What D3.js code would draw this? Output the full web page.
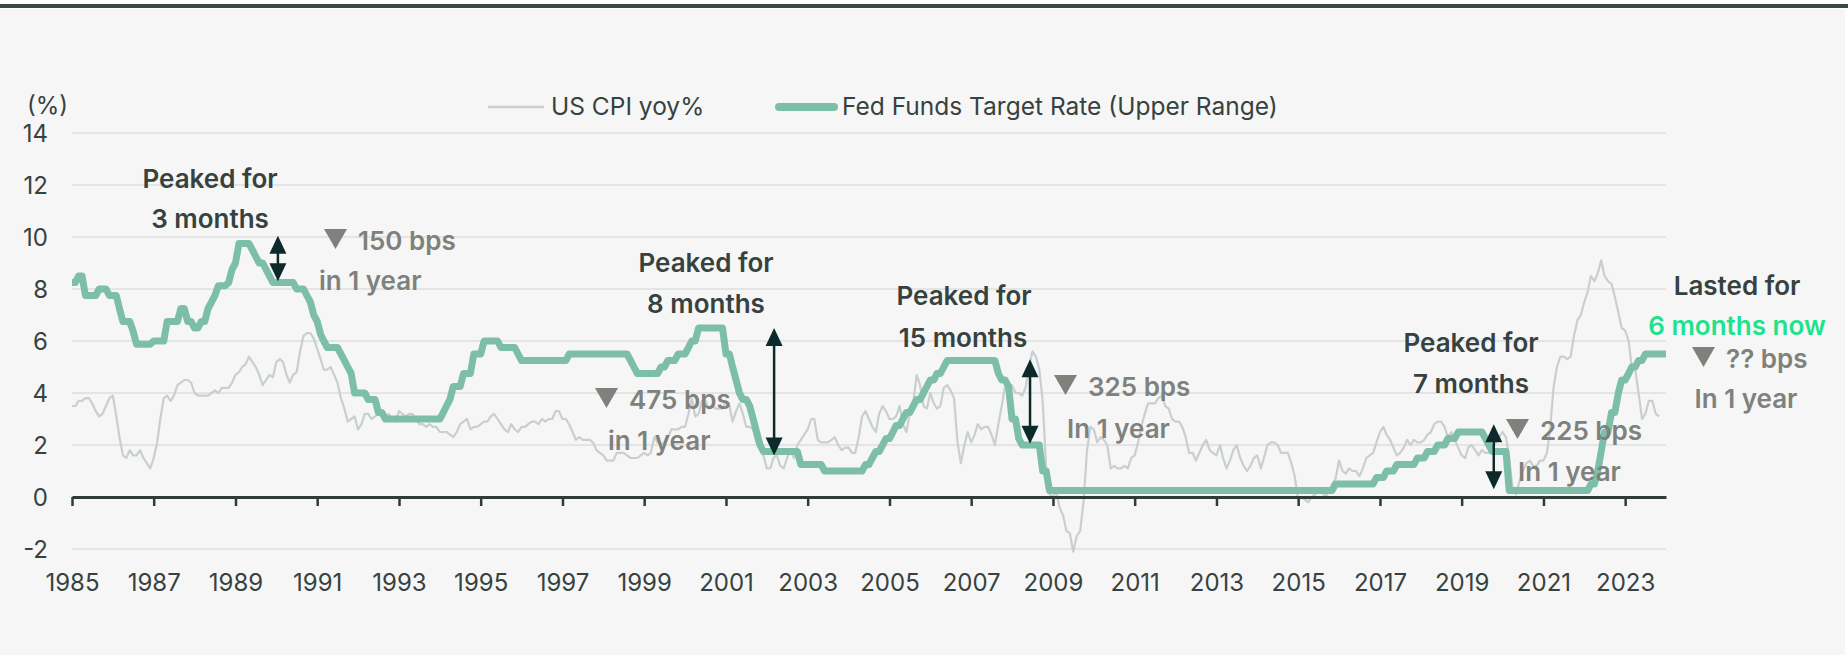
<!DOCTYPE html>
<html lang="en">
<head>
<meta charset="UTF-8">
<title>Fed Funds Target Rate vs US CPI</title>
<script src="https://d3js.org/d3.v7.min.js"></script>
<style>
  body { margin: 0; background: #fff; }
  svg { display: block; font-family: Inter, "Noto Sans", sans-serif; }
</style>
</head>
<body>
<svg width="1848" height="657"></svg>
<script>
// US CPI yoy %, monthly from Jan 1985 (one row per year)
const cpiStart = "1985-01";
const cpiYoy = [
  3.5, 3.5, 3.7, 3.7, 3.8, 3.8, 3.6, 3.3, 3.1, 3.2, 3.5, 3.8,
  3.9, 3.1, 2.3, 1.6, 1.5, 1.8, 1.6, 1.6, 1.8, 1.5, 1.3, 1.1,
  1.5, 2.1, 3.0, 3.8, 3.9, 3.7, 3.9, 4.3, 4.4, 4.5, 4.5, 4.4,
  4.0, 3.9, 3.9, 3.9, 3.9, 4.0, 4.1, 4.0, 4.2, 4.2, 4.2, 4.4,
  4.7, 4.8, 5.0, 5.1, 5.4, 5.2, 5.0, 4.7, 4.3, 4.5, 4.7, 4.6,
  5.2, 5.3, 5.2, 4.7, 4.4, 4.7, 4.8, 5.6, 6.2, 6.3, 6.3, 6.1,
  5.7, 5.3, 4.9, 4.9, 5.0, 4.7, 4.4, 3.8, 3.4, 2.9, 3.0, 3.1,
  2.6, 2.8, 3.2, 3.2, 3.0, 3.1, 3.2, 3.1, 3.0, 3.2, 3.0, 2.9,
  3.3, 3.2, 3.1, 3.2, 3.2, 3.0, 2.8, 2.8, 2.7, 2.8, 2.7, 2.7,
  2.5, 2.5, 2.5, 2.4, 2.3, 2.5, 2.8, 2.9, 3.0, 2.6, 2.7, 2.7,
  2.8, 2.9, 2.9, 3.1, 3.2, 3.0, 2.8, 2.6, 2.5, 2.8, 2.6, 2.5,
  2.7, 2.7, 2.8, 2.9, 2.9, 2.8, 3.0, 2.9, 3.0, 3.0, 3.3, 3.3,
  3.0, 3.0, 2.8, 2.5, 2.2, 2.3, 2.2, 2.2, 2.2, 2.1, 1.8, 1.7,
  1.6, 1.4, 1.4, 1.4, 1.7, 1.7, 1.7, 1.6, 1.5, 1.5, 1.5, 1.6,
  1.7, 1.6, 1.7, 2.3, 2.1, 2.0, 2.1, 2.3, 2.6, 2.6, 2.6, 2.7,
  2.7, 3.2, 3.8, 3.1, 3.2, 3.7, 3.7, 3.4, 3.5, 3.4, 3.4, 3.4,
  3.7, 3.5, 2.9, 3.3, 3.6, 3.2, 2.7, 2.7, 2.6, 2.1, 1.9, 1.6,
  1.1, 1.1, 1.5, 1.6, 1.2, 1.1, 1.5, 1.8, 1.5, 2.0, 2.2, 2.4,
  2.6, 3.0, 3.0, 2.2, 2.1, 2.1, 2.1, 2.2, 2.3, 2.0, 1.8, 1.9,
  1.9, 1.7, 1.7, 2.3, 3.1, 3.3, 3.0, 2.7, 2.5, 3.2, 3.5, 3.3,
  3.0, 3.0, 3.1, 3.5, 2.8, 2.5, 3.2, 3.6, 4.7, 4.3, 3.5, 3.4,
  4.0, 3.6, 3.4, 3.5, 4.2, 4.3, 4.1, 3.8, 2.1, 1.3, 2.0, 2.5,
  2.1, 2.4, 2.8, 2.6, 2.7, 2.7, 2.4, 2.0, 2.8, 3.5, 4.3, 4.1,
  4.3, 4.0, 4.0, 3.9, 4.2, 5.0, 5.6, 5.4, 4.9, 3.7, 1.1, 0.1,
  0.0, 0.2, -0.4, -0.7, -1.3, -1.4, -2.1, -1.5, -1.3, -0.2, 1.8, 2.7,
  2.6, 2.1, 2.3, 2.2, 2.0, 1.1, 1.2, 1.1, 1.1, 1.2, 1.1, 1.5,
  1.6, 2.1, 2.7, 3.2, 3.6, 3.6, 3.6, 3.8, 3.9, 3.5, 3.4, 3.0,
  2.9, 2.9, 2.7, 2.3, 1.7, 1.7, 1.4, 1.7, 2.0, 2.2, 1.8, 1.7,
  1.6, 2.0, 1.5, 1.1, 1.4, 1.8, 2.0, 1.5, 1.2, 1.0, 1.2, 1.5,
  1.6, 1.1, 1.5, 2.0, 2.1, 2.1, 2.0, 1.7, 1.7, 1.7, 1.3, 0.8,
  -0.1, 0.0, -0.1, -0.2, 0.0, 0.1, 0.2, 0.2, 0.0, 0.2, 0.5, 0.7,
  1.4, 1.0, 0.9, 1.1, 1.0, 1.0, 0.8, 1.1, 1.5, 1.6, 1.7, 2.1,
  2.5, 2.7, 2.4, 2.2, 1.9, 1.6, 1.7, 1.9, 2.2, 2.0, 2.2, 2.1,
  2.1, 2.2, 2.4, 2.5, 2.8, 2.9, 2.9, 2.7, 2.3, 2.5, 2.2, 1.9,
  1.6, 1.5, 1.9, 2.0, 1.8, 1.6, 1.8, 1.7, 1.7, 1.8, 2.1, 2.3,
  2.5, 2.3, 1.5, 0.3, 0.1, 0.6, 1.0, 1.3, 1.4, 1.2, 1.2, 1.4,
  1.4, 1.7, 2.6, 4.2, 5.0, 5.4, 5.4, 5.3, 5.4, 6.2, 6.8, 7.0,
  7.5, 7.9, 8.5, 8.3, 8.6, 9.1, 8.5, 8.3, 8.2, 7.7, 7.1, 6.5,
  6.4, 6.0, 5.0, 4.9, 4.0, 3.0, 3.2, 3.7, 3.7, 3.2, 3.1
];

// Fed funds target rate (upper range): month of change and new level
const fedDates = [
  "1985-01","1985-03","1985-05","1985-09","1985-12","1986-03","1986-04","1986-07","1986-08",
  "1987-01","1987-05","1987-09","1987-11","1988-01","1988-03","1988-05","1988-06","1988-07",
  "1988-08","1988-11","1988-12","1989-01","1989-02","1989-06","1989-07","1989-08","1989-10",
  "1989-11","1989-12","1990-07","1990-10","1990-11","1990-12","1991-01","1991-02","1991-03",
  "1991-04","1991-08","1991-09","1991-10","1991-11","1991-12","1992-04","1992-07","1992-09",
  "1994-02","1994-03","1994-04","1994-05","1994-08","1994-11","1995-02","1995-07","1995-12",
  "1996-01","1997-03","1998-09","1998-10","1998-11","1999-06","1999-08","1999-11","2000-02",
  "2000-03","2000-05","2001-01","2001-03","2001-04","2001-05","2001-06","2001-08","2001-09",
  "2001-10","2001-11","2001-12","2002-11","2003-06","2004-06","2004-08","2004-09","2004-11",
  "2004-12","2005-02","2005-03","2005-05","2005-06","2005-08","2005-09","2005-11","2005-12",
  "2006-01","2006-03","2006-05","2006-06","2007-09","2007-10","2007-12","2008-01","2008-03",
  "2008-04","2008-10","2008-12","2015-12","2016-12","2017-03","2017-06","2017-12","2018-03",
  "2018-06","2018-09","2018-12","2019-08","2019-09","2019-10","2020-03","2022-03","2022-05",
  "2022-06","2022-07","2022-09","2022-11","2022-12","2023-02","2023-03","2023-05","2023-07",
  "2024-01"
];
const fedRates = [
  8.25, 8.5, 7.75, 8.0, 7.75, 7.25, 6.75, 6.375, 5.875,
  6.0, 6.75, 7.25, 6.75, 6.5, 6.75, 7.25, 7.5, 7.75,
  8.125, 8.25, 8.75, 9.0, 9.75, 9.5, 9.25, 9.0, 8.75,
  8.5, 8.25, 8.0, 7.75, 7.5, 7.0, 6.75, 6.25, 6.0,
  5.75, 5.5, 5.25, 5.0, 4.75, 4.0, 3.75, 3.25, 3.0,
  3.25, 3.5, 3.75, 4.25, 4.75, 5.5, 6.0, 5.75, 5.5,
  5.25, 5.5, 5.25, 5.0, 4.75, 5.0, 5.25, 5.5, 5.75,
  6.0, 6.5, 5.5, 5.0, 4.5, 4.0, 3.75, 3.5, 3.0,
  2.5, 2.0, 1.75, 1.25, 1.0, 1.25, 1.5, 1.75, 2.0,
  2.25, 2.5, 2.75, 3.0, 3.25, 3.5, 3.75, 4.0, 4.25,
  4.5, 4.75, 5.0, 5.25, 4.75, 4.5, 4.25, 3.0, 2.25,
  2.0, 1.0, 0.25, 0.5, 0.75, 1.0, 1.25, 1.5, 1.75,
  2.0, 2.25, 2.5, 2.25, 2.0, 1.75, 0.25, 0.5, 1.0,
  1.75, 2.5, 3.25, 4.0, 4.5, 4.75, 5.0, 5.25, 5.5,
  5.5
];

const yTicks = [-2, 0, 2, 4, 6, 8, 10, 12, 14];
const xTickYears = [1985, 1987, 1989, 1991, 1993, 1995, 1997, 1999, 2001, 2003,
                    2005, 2007, 2009, 2011, 2013, 2015, 2017, 2019, 2021, 2023];
const legendLabels = ["US CPI yoy%", "Fed Funds Target Rate (Upper Range)"];

// double-headed arrows marking each peak-to-cut move: date, top, bottom
const arrowDates = ["1990-01-15", "2002-03-07", "2008-06-10", "2019-10-15"];
const arrowTops = [10.05, 6.5, 5.3, 2.8];
const arrowBottoms = [8.3, 1.6, 2.05, 0.3];

const cText = "#36423f", cGrey = "#7e817c", cFed = "#7dbea8", cCpi = "#c9cfcf",
      cAxis = "#2f3b3b", cGrid = "#dcdedd", cGreen = "#1fe28c", cArrow = "#0d2a2a";

const svg = d3.select("svg");

// panel + top rule
svg.append("rect").attr("x", 0).attr("y", 9).attr("width", 1845).attr("height", 646).attr("fill", "#f6f6f6");
svg.append("rect").attr("x", 0).attr("y", 4).attr("width", 1848).attr("height", 4).attr("fill", "#3a4848");

const parseMonth = d3.timeParse("%Y-%m");
const parseDay = d3.timeParse("%Y-%m-%d");
const x = d3.scaleTime()
    .domain([new Date(1985, 0, 1), new Date(2024, 0, 1)])
    .range([72, 1666]);
const y = d3.scaleLinear().domain([-2, 14]).range([549, 133]);

// gridlines
svg.append("g").selectAll("line")
    .data(yTicks.filter(d => d !== 0))
    .enter().append("line")
    .attr("x1", x.range()[0]).attr("x2", x.range()[1])
    .attr("y1", d => y(d)).attr("y2", d => y(d))
    .attr("stroke", cGrid).attr("stroke-width", 1.5);

// y labels
svg.append("g").selectAll("text")
    .data(yTicks)
    .enter().append("text")
    .attr("x", 48).attr("y", d => y(d)).attr("dy", "0.36em")
    .attr("text-anchor", "end")
    .style("font-size", "24px").attr("fill", cText)
    .text(d => d);

svg.append("text").attr("x", 27).attr("y", 114)
    .style("font-size", "24px").attr("fill", cText).text("(%)");

// CPI line
const cpiData = cpiYoy.map((v, i) => ({date: d3.timeMonth.offset(parseMonth(cpiStart), i), v: v}));
svg.append("path")
    .datum(cpiData)
    .attr("fill", "none").attr("stroke", cCpi).attr("stroke-width", 2.2)
    .attr("stroke-linejoin", "round")
    .attr("d", d3.line().x(d => x(d.date)).y(d => y(d.v)));

// x axis
const xAxis = svg.append("g")
    .attr("transform", `translate(0, ${y(0)})`)
    .call(d3.axisBottom(x)
        .tickValues(xTickYears.map(yr => new Date(yr, 0, 1)))
        .tickFormat(d3.timeFormat("%Y"))
        .tickSize(9).tickSizeOuter(0).tickPadding(68));
xAxis.select(".domain").attr("stroke", cAxis).attr("stroke-width", 3);
xAxis.selectAll(".tick line").attr("stroke", cAxis).attr("stroke-width", 2.5);
xAxis.selectAll(".tick text").attr("fill", cText).style("font-size", "24px")
    .style("font-family", "Inter, 'Noto Sans', sans-serif");

// Fed funds line, plotted as a monthly series: the old level holds until
// the month before each change, then the line moves to the new level
const fedData = [];
fedDates.forEach((d, i) => {
    const dt = parseMonth(d);
    if (i > 0) fedData.push({date: d3.timeMonth.offset(dt, -1), v: fedRates[i - 1]});
    fedData.push({date: dt, v: fedRates[i]});
});
svg.append("path")
    .datum(fedData)
    .attr("fill", "none").attr("stroke", cFed).attr("stroke-width", 7)
    .attr("stroke-linejoin", "round")
    .attr("d", d3.line().x(d => x(d.date)).y(d => y(d.v)));

// legend
svg.append("line").attr("x1", 488).attr("x2", 544).attr("y1", 107).attr("y2", 107)
    .attr("stroke", cCpi).attr("stroke-width", 2.5);
svg.append("text").attr("x", 551).attr("y", 115).style("font-size", "24.5px").attr("fill", cText)
    .text(legendLabels[0]);
svg.append("line").attr("x1", 779).attr("x2", 834).attr("y1", 107).attr("y2", 107)
    .attr("stroke", cFed).attr("stroke-width", 8).attr("stroke-linecap", "round");
svg.append("text").attr("x", 842).attr("y", 115).style("font-size", "24.5px").attr("fill", cText)
    .text(legendLabels[1]);

// arrows
const arrows = svg.append("g");
arrowDates.forEach((d, i) => {
    const ax = x(parseDay(d));
    const top = y(arrowTops[i]), bot = y(arrowBottoms[i]);
    arrows.append("line").attr("x1", ax).attr("x2", ax).attr("y1", top + 8).attr("y2", bot - 8)
        .attr("stroke", cArrow).attr("stroke-width", 2.5);
    arrows.append("path").attr("fill", cArrow)
        .attr("d", `M${ax},${top}L${ax - 8.5},${top + 18}L${ax + 8.5},${top + 18}Z`);
    arrows.append("path").attr("fill", cArrow)
        .attr("d", `M${ax},${bot}L${ax - 8.5},${bot - 18}L${ax + 8.5},${bot - 18}Z`);
});

// annotation text
function label(tx, ty, txt, color, anchor) {
    svg.append("text").attr("x", tx).attr("y", ty)
        .attr("text-anchor", anchor || "middle")
        .style("font-size", "26px").style("font-weight", 600)
        .attr("fill", color).text(txt);
}
function cut(tx, ty, txt) {
    // grey down-triangle followed by the bps text
    svg.append("path").attr("fill", cGrey)
        .attr("d", `M${tx},${ty - 21}L${tx + 23},${ty - 21}L${tx + 11.5},${ty - 1}Z`);
    label(tx + 34, ty, txt, cGrey, "start");
}

label(210, 188, "Peaked for", cText);
label(210, 228, "3 months", cText);
cut(324, 250, "150 bps");
label(319, 290, "in 1 year", cGrey, "start");

label(706, 272, "Peaked for", cText);
label(706, 313, "8 months", cText);
cut(595, 409, "475 bps");
label(608, 450, "in 1 year", cGrey, "start");

label(964, 305, "Peaked for", cText);
label(963, 347, "15 months", cText);
cut(1054, 396, "325 bps");
label(1067, 438, "In 1 year", cGrey, "start");

label(1471, 352, "Peaked for", cText);
label(1471, 393, "7 months", cText);
cut(1506, 440, "225 bps");
label(1518, 481, "In 1 year", cGrey, "start");

label(1737, 295, "Lasted for", cText);
label(1737, 335, "6 months now", cGreen);
cut(1692, 368, "?? bps");
label(1746, 408, "In 1 year", cGrey);
</script>
</body>
</html>
